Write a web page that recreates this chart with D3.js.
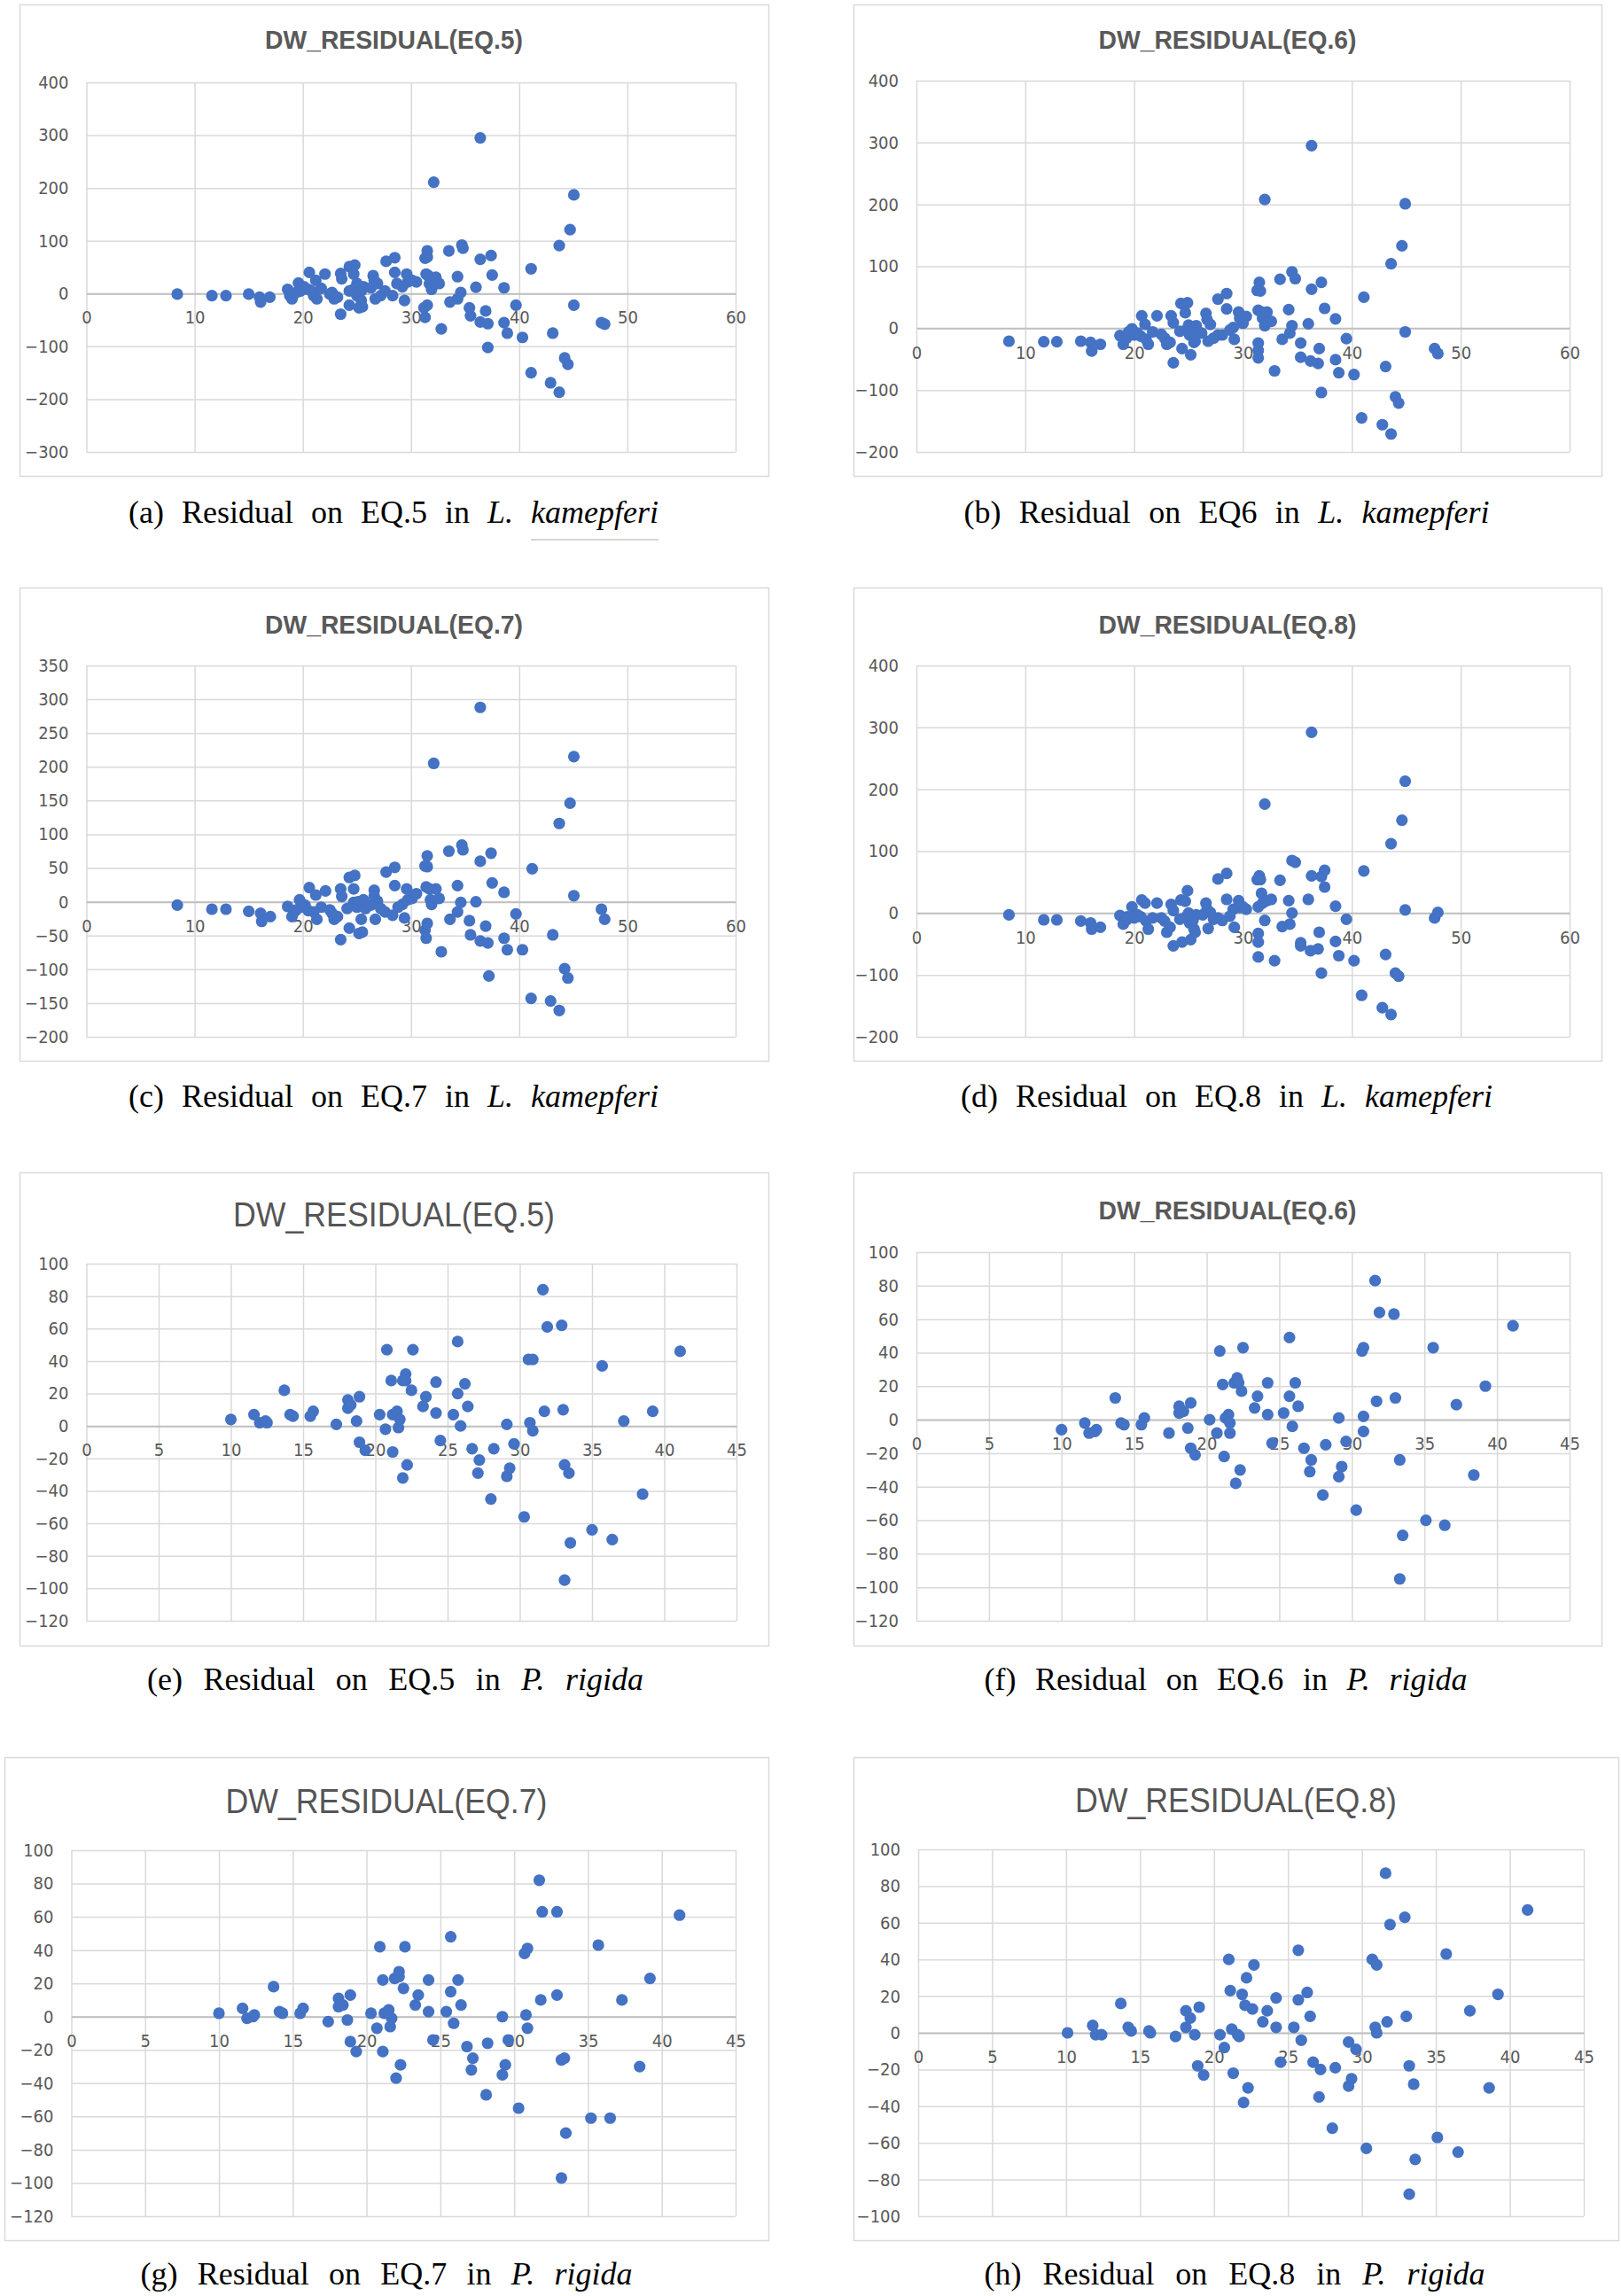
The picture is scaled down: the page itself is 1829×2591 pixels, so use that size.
<!DOCTYPE html>
<html><head><meta charset="utf-8">
<script src="https://cdn.jsdelivr.net/npm/d3@7"></script>
<style>body{margin:0;background:#fff}svg{display:block}</style>
</head><body>
<svg id="c" width="1829" height="2591"></svg>
<script>
// ---------------- DATA ----------------
const xTicksL = [0,10,20,30,40,50,60];
const xTicksP = [0,5,10,15,20,25,30,35,40,45];
const yTicksA = [-300,-200,-100,0,100,200,300,400];
const yTicksB = [-200,-100,0,100,200,300,400];
const yTicksC = [-200,-150,-100,-50,0,50,100,150,200,250,300,350];
const yTicksD = [-200,-100,0,100,200,300,400];
const yTicksE = [-120,-100,-80,-60,-40,-20,0,20,40,60,80,100];
const yTicksF = [-120,-100,-80,-60,-40,-20,0,20,40,60,80,100];
const yTicksG = [-120,-100,-80,-60,-40,-20,0,20,40,60,80,100];
const yTicksH = [-100,-80,-60,-40,-20,0,20,40,60,80,100];

// [DBH, residual] for L. kaempferi
const kaeEq5 = [[8.4,-1],[11.6,-4],[12.9,-4],[15.0,-1],[16.0,-7],[16.1,-16],[16.95,-7],
[18.6,8],[18.8,-4],[19.0,-10],[19.6,20],[19.8,5],[19.4,2],
[20.6,40],[20.5,8],[21.0,-4],[21.2,25],[21.3,-10],[21.7,10],[22.05,37],
[22.7,2],[22.9,-10],[23.2,-7],[23.5,38],[23.6,28],[23.5,-39],
[24.3,51],[24.8,54],[24.7,37],[24.3,-22],[24.7,8],[25.0,-4],[25.2,-27],[25.4,-13],[25.5,-25],[25.6,13],
[26.5,34],[26.7,-10],[26.9,19],[26.6,25],[27.6,5],[27.7,61],[28.5,68],[28.5,40],[28.3,-4],
[29.2,13],[29.4,-13],[29.6,37],[29.7,22],[30.5,22],
[31.2,-27],[31.3,-45],[31.5,-22],[31.3,67],[31.5,81],[31.5,69],[31.4,37],[31.6,34],[31.7,19],[31.9,8],
[32.1,211],[32.3,31],[32.6,19],[32.8,-67],[33.5,81],[33.6,-16],
[34.3,32],[34.3,-10],[34.6,2],[34.7,92],[34.8,86],[35.4,-27],[35.5,-42],[36.0,12],
[36.4,295],[36.4,65],[36.4,-54],[36.9,-33],[37.1,-57],[37.1,-102],[37.4,72],[37.5,35],
[38.6,11],[38.6,-55],[38.9,-75],[39.7,-22],[40.3,-83],[41.1,47],[41.1,-150],
[42.9,-169],[43.1,-75],[43.7,91],[43.7,-187],[44.2,-122],[44.5,-134],[44.7,121],[45.05,187],[45.05,-22],
[47.6,-55],[47.9,-58],
[20.1,13],[20.8,5],[22.5,-1],[24.3,5],[25.0,19],[25.4,5],[26.3,11],[27.2,-4],[28.7,19],[30.1,25]];

const kaeEq6 = [[8.5,-21],[11.7,-22],[12.9,-22],[15.1,-21],[16.0,-23],[16.1,-37],[16.9,-26],
[18.7,-12],[19.0,-26],[19.3,-16],[19.8,-1],[20.0,-11],
[20.7,20],[20.6,-13],[21.1,-18],[21.0,6],[21.3,-26],[21.7,-6],[22.1,20],
[22.8,-16],[23.0,-26],[23.3,-23],[23.4,20],[23.6,9],[23.6,-56],
[24.3,40],[24.9,41],[24.7,25],[24.4,-33],[24.8,-3],[25.1,-11],[25.2,-43],[25.5,-23],[25.6,-21],[25.7,4],
[26.6,24],[26.8,-21],[27.0,6],[26.7,14],[27.7,-11],[27.7,47],[28.5,56],[28.5,31],[28.1,-11],
[29.1,1],[29.2,-18],[29.6,26],[29.7,16],[30.3,19],
[31.4,-24],[31.4,-48],[31.4,-36],[31.3,61],[31.5,74],[31.6,60],[31.4,29],[31.7,26],[31.8,16],[32.0,4],
[32.0,208],[32.2,26],[32.6,11],[32.9,-69],[33.4,79],[33.6,-18],
[34.2,30],[34.3,-8],[34.5,4],[34.5,91],[34.8,80],[35.3,-24],[35.3,-47],[36.0,7],
[36.3,295],[36.3,63],[36.2,-53],[37.0,-33],[36.9,-57],[37.2,-104],[37.2,74],[37.5,32],
[38.5,15],[38.5,-51],[38.8,-72],[39.5,-17],[40.2,-75],[41.1,50],[40.9,-145],
[42.8,-156],[43.1,-62],[43.6,104],[43.6,-171],[44.0,-111],[44.3,-121],[44.6,133],[44.9,201],[44.9,-6],
[47.6,-33],[47.9,-41],
[19.5,-6],[20.3,-8],[22.5,-10],[24.2,-5],[25.0,5],[25.4,-5],[26.2,-8],[27.3,-16],[28.8,-3],[30.0,8]];

const kaeEq7 = [[8.4,-5],[11.6,-11],[12.9,-11],[15.0,-14],[16.1,-17],[16.2,-29],[17.0,-22],
[18.6,-7],[19.0,-22],[19.2,-15],[19.7,3],[19.8,-8],
[20.6,21],[20.5,-13],[21.0,-15],[21.2,10],[21.3,-26],[21.7,-8],[22.1,16],
[22.7,-17],[22.9,-26],[23.2,-22],[23.5,19],[23.6,8],[23.5,-56],
[24.3,36],[24.8,39],[24.7,19],[24.3,-39],[24.7,-1],[25.0,-8],[25.2,-47],[25.4,-26],[25.5,-45],[25.6,3],
[26.6,17],[26.7,-26],[26.9,1],[26.6,8],[27.6,-15],[27.7,44],[28.5,51],[28.5,24],[28.3,-20],
[29.2,-4],[29.4,-24],[29.6,19],[29.7,3],[30.5,12],
[31.3,-42],[31.4,-54],[31.5,-32],[31.3,53],[31.5,68],[31.5,52],[31.4,22],[31.7,19],[31.8,3],[31.9,-4],
[32.1,205],[32.3,19],[32.6,5],[32.8,-74],[33.5,75],[33.6,-26],
[34.3,24],[34.3,-15],[34.6,-1],[34.7,84],[34.8,77],[35.4,-28],[35.5,-49],[36.0,0],
[36.4,288],[36.4,60],[36.4,-58],[36.9,-36],[37.1,-61],[37.2,-110],[37.4,72],[37.5,28],
[38.6,14],[38.6,-54],[38.9,-71],[39.7,-18],[40.3,-71],[41.2,49],[41.1,-143],
[42.9,-147],[43.1,-49],[43.7,116],[43.7,-161],[44.2,-99],[44.5,-113],[44.7,146],[45.05,215],[45.05,9],
[47.6,-11],[47.9,-26],
[19.4,-12],[20.2,-5],[22.5,-12],[24.1,-10],[25.1,0],[25.8,-10],[26.3,-5],[27.2,-10],[28.8,-8],[30.1,5]];

const kaeEq8 = [[8.5,-3],[11.7,-11],[12.9,-11],[15.1,-13],[16.0,-16],[16.1,-26],[16.9,-23],
[18.7,-4],[19.0,-18],[19.3,-11],[19.8,10],[20.0,-8],
[20.7,21],[20.6,-6],[21.1,-13],[21.0,16],[21.3,-26],[21.7,-8],[22.1,16],
[22.8,-13],[23.0,-31],[23.3,-23],[23.4,14],[23.6,4],[23.6,-53],
[24.3,21],[24.9,36],[24.7,19],[24.4,-47],[24.8,-6],[25.1,-16],[25.2,-43],[25.5,-26],[25.6,-31],[25.7,-3],
[26.6,16],[26.8,-25],[27.0,1],[26.7,6],[27.7,-8],[27.7,55],[28.5,64],[28.5,22],[28.1,-12],
[29.1,6],[29.2,-23],[29.6,20],[29.7,9],[30.3,6],
[31.4,-33],[31.4,-47],[31.4,-71],[31.3,54],[31.5,60],[31.6,54],[31.4,10],[31.7,32],[31.8,16],[32.0,-12],
[32.0,176],[32.2,20],[32.6,22],[32.9,-77],[33.4,53],[33.6,-22],
[34.2,20],[34.3,-18],[34.5,0],[34.5,85],[34.8,82],[35.3,-48],[35.3,-53],[36.0,22],
[36.3,292],[36.3,60],[36.2,-61],[37.0,-31],[36.9,-58],[37.2,-97],[37.2,59],[37.5,69],[37.5,42],
[38.5,11],[38.5,-46],[38.8,-69],[39.5,-10],[40.2,-77],[41.1,68],[40.9,-133],
[42.8,-153],[43.1,-67],[43.6,112],[43.6,-164],[44.0,-97],[44.3,-102],[44.6,150],[44.9,213],[44.9,5],
[47.6,-8],[47.9,1],
[19.4,-6],[20.3,-3],[22.5,-8],[24.2,-10],[25.0,0],[25.4,-12],[26.3,-3],[27.3,-10],[28.8,-5],[30.0,10]];

// [DBH, residual] for P. rigida
const rigEq5 = [[10.0,4],[11.6,7],[12.0,2],[12.4,3],[12.5,2],[13.7,22],[14.1,7],[14.3,6],[15.5,6],[15.7,9],
[17.3,1],[18.1,16],[18.1,11],[18.3,13],[18.7,3],[18.9,18],[18.9,-10],[19.3,-15],
[20.3,7],[20.7,-2],[20.8,47],[21.1,28],[21.2,7],[21.2,-16],[21.5,9],[21.7,4],[21.6,-1],
[21.9,28],[22.1,32],[22.1,28],[21.9,-32],[22.2,-24],[22.5,22],[22.6,47],
[23.3,12],[23.5,18],[24.2,27],[24.2,8],[24.5,-9],
[25.4,7],[25.7,52],[25.7,20],[25.9,0],[26.2,26],[26.4,12],
[26.7,-14],[27.1,-29],[27.2,-21],[28.0,-45],[28.2,-14],
[29.1,1],[29.1,-31],[29.3,-26],[29.6,-11],[30.3,-56],
[30.6,41],[30.9,41],[30.7,2],[30.9,-3],[31.6,84],[31.7,9],[31.9,61],
[32.9,62],[33.0,10],[33.1,-24],[33.4,-29],[33.5,-72],[33.1,-95],
[35.0,-64],[35.7,37],[36.4,-70],[37.2,3],[38.5,-42],[39.2,9],[41.1,46]];

const rigEq6 = [[10.0,-6],[11.6,-2],[11.9,-8],[12.3,-7],[12.4,-6],[13.7,13],[14.1,-2],[14.3,-3],[15.5,-3],[15.7,1],
[17.4,-8],[18.1,8],[18.1,4],[18.4,5],[18.7,-5],[18.9,10],[18.9,-17],[19.2,-21],
[20.2,0],[20.7,-8],[20.9,41],[21.1,21],[21.3,1],[21.5,3],[21.6,-2],[21.6,-8],[21.2,-22],
[21.9,22],[22.1,25],[22.2,22],[22.0,-38],[22.3,-30],[22.4,17],[22.5,43],
[23.3,7],[23.5,14],[24.2,22],[24.2,3],[24.5,-14],
[25.3,4],[25.7,49],[25.7,14],[25.9,-4],[26.1,22],[26.3,8],
[26.7,-17],[27.1,-31],[27.2,-24],[28.0,-45],[28.2,-15],
[29.1,1],[29.1,-34],[29.3,-28],[29.6,-13],[30.3,-54],
[30.7,41],[30.8,43],[30.8,2],[30.8,-7],[31.6,83],[31.7,11],[31.9,64],
[32.9,63],[33.0,13],[33.3,-24],[33.5,-69],[33.3,-95],
[35.1,-60],[35.6,43],[36.4,-63],[37.2,9],[38.4,-33],[39.2,20],[41.1,56]];

const rigEq7 = [[10.0,2],[11.6,5],[11.9,-1],[12.3,0],[12.4,1],[13.7,18],[14.1,3],[14.3,2],[15.5,2],[15.7,5],
[17.4,-3],[18.1,11],[18.1,6],[18.4,7],[18.7,-2],[18.9,13],[18.9,-15],[19.3,-21],
[20.3,2],[20.7,-7],[20.9,42],[21.1,22],[21.2,2],[21.5,4],[21.7,-1],[21.6,-6],[21.1,-21],
[21.9,23],[22.2,27],[22.2,24],[22.0,-37],[22.3,-29],[22.5,17],[22.6,42],
[23.3,7],[23.5,13],[24.2,22],[24.2,3],[24.5,-14],
[25.4,3],[25.7,48],[25.7,15],[25.9,-4],[26.2,22],[26.4,7],
[26.8,-18],[27.1,-32],[27.2,-25],[28.1,-47],[28.2,-16],
[29.2,0],[29.2,-35],[29.4,-29],[29.6,-14],[30.3,-55],
[30.7,38],[30.9,41],[30.8,1],[30.9,-7],[31.7,82],[31.8,10],[31.9,63],
[32.9,63],[32.9,13],[33.2,-26],[33.4,-25],[33.5,-70],[33.2,-97],
[35.2,-61],[35.7,43],[36.5,-61],[37.3,10],[38.5,-30],[39.2,23],[41.2,61]];

const rigEq8 = [[10.1,0],[11.8,4],[12.0,-1],[12.4,-1],[13.7,16],[14.2,3],[14.4,1],[15.6,1],[15.7,0],
[17.4,-2],[18.1,12],[18.1,3],[18.4,8],[18.7,-1],[19.0,14],[18.9,-18],[19.3,-23],
[20.4,-1],[20.7,-8],[21.0,40],[21.1,23],[21.2,2],[21.6,-1],[21.7,-2],[21.3,-22],
[21.9,21],[22.2,30],[22.1,15],[22.0,-38],[22.3,-30],[22.6,13],[22.7,37],
[23.3,6],[23.6,12],[24.2,19],[24.2,3],[24.5,-16],
[25.4,3],[25.7,45],[25.7,18],[25.9,-4],[26.3,22],[26.5,9],
[26.7,-16],[27.2,-20],[27.1,-35],[28.0,-52],[28.2,-19],
[29.1,-5],[29.1,-29],[29.3,-25],[29.6,-9],[30.3,-63],
[30.7,40],[31.0,37],[30.9,3],[31.0,0],[31.6,87],[31.7,6],[31.9,59],
[32.9,63],[33.0,9],[33.2,-18],[33.5,-28],[33.6,-69],[33.2,-88],
[35.1,-57],[35.7,43],[36.5,-65],[37.3,12],[38.6,-30],[39.2,21],[41.2,67]];

const titles = ['DW_RESIDUAL(EQ.5)','DW_RESIDUAL(EQ.6)','DW_RESIDUAL(EQ.7)','DW_RESIDUAL(EQ.8)',
                'DW_RESIDUAL(EQ.5)','DW_RESIDUAL(EQ.6)','DW_RESIDUAL(EQ.7)','DW_RESIDUAL(EQ.8)'];
const captionLeads = ['(a) Residual on EQ.5 in ','(b) Residual on EQ6 in ','(c) Residual on EQ.7 in ','(d) Residual on EQ.8 in ',
                      '(e) Residual on EQ.5 in ','(f) Residual on EQ.6 in ','(g) Residual on EQ.7 in ','(h) Residual on EQ.8 in '];
const genusL = 'L.', speciesL = 'kamepferi';
const genusP = 'P.', speciesP = 'rigida';

// ---------------- LAYOUT ----------------
const layout = [
 {data:kaeEq5, xT:xTicksL, yT:yTicksA, box:[22,5,867,537],     plot:[97.5,93,830,510],    tStyle:'b', tY:44.5, cap:[444,598,590], g:genusL, s:speciesL, ul:true},
 {data:kaeEq6, xT:xTicksL, yT:yTicksB, box:[963,5,1807,537],   plot:[1034,91,1771,510],   tStyle:'b', tY:44.5, cap:[1384,593,590], g:genusL, s:speciesL},
 {data:kaeEq7, xT:xTicksL, yT:yTicksC, box:[22,663,867,1197],  plot:[97.5,751,830,1170],  tStyle:'b', tY:704, cap:[444,598,1249], g:genusL, s:speciesL},
 {data:kaeEq8, xT:xTicksL, yT:yTicksD, box:[963,663,1807,1197],plot:[1034,751,1771,1170], tStyle:'b', tY:704, cap:[1384,600,1249], g:genusL, s:speciesL},
 {data:rigEq5, xT:xTicksP, yT:yTicksE, box:[22,1323,867,1857], plot:[97.5,1426,831,1829], tStyle:'l', tY:1371, cap:[446,560,1907], g:genusP, s:speciesP},
 {data:rigEq6, xT:xTicksP, yT:yTicksF, box:[963,1323,1807,1857],plot:[1034,1413,1771,1829],tStyle:'b', tY:1365, cap:[1383,545,1907], g:genusP, s:speciesP},
 {data:rigEq7, xT:xTicksP, yT:yTicksG, box:[5,1983,867,2528],  plot:[80.5,2088,830,2501], tStyle:'l', tY:2033, cap:[436,555,2578], g:genusP, s:speciesP},
 {data:rigEq8, xT:xTicksP, yT:yTicksH, box:[963,1983,1826,2528],plot:[1036,2087,1787,2501],tStyle:'l', tY:2032, cap:[1393,565,2578], g:genusP, s:speciesP}
];

const svg = d3.select('#c');
const tickFont = '"Liberation Sans Narrow","DejaVu Sans Condensed","Liberation Sans",sans-serif';
const gray = '#595959';

layout.forEach((p, i) => {
  const [bx0,by0,bx1,by1] = p.box;
  const [px0,py0,px1,py1] = p.plot;
  const g = svg.append('g');
  g.append('rect').attr('x',bx0+0.5).attr('y',by0+0.5).attr('width',bx1-bx0).attr('height',by1-by0)
    .attr('fill','#fff').attr('stroke','#d9d9d9').attr('stroke-width',1.5);

  const xs = d3.scaleLinear().domain([p.xT[0], p.xT[p.xT.length-1]]).range([px0,px1]);
  const ys = d3.scaleLinear().domain([p.yT[0], p.yT[p.yT.length-1]]).range([py1,py0]);

  const gx = g.append('g').attr('transform',`translate(0,${py1})`)
    .call(d3.axisBottom(xs).tickValues(p.xT).tickSize(-(py1-py0)).tickFormat(''));
  gx.select('.domain').remove();
  gx.selectAll('line').attr('stroke','#d9d9d9').attr('stroke-width',1.5);

  const gy = g.append('g').attr('transform',`translate(${px0},0)`)
    .call(d3.axisLeft(ys).tickValues(p.yT).tickSize(-(px1-px0)).tickPadding(20).tickFormat(d3.format('d')));
  gy.select('.domain').remove();
  gy.selectAll('line').attr('stroke','#d9d9d9').attr('stroke-width',1.5);
  gy.selectAll('text').attr('font-family',tickFont).attr('font-size',20).attr('fill',gray);

  const gz = g.append('g').attr('transform',`translate(0,${ys(0)})`)
    .call(d3.axisBottom(xs).tickValues(p.xT).tickSize(0).tickPadding(20).tickFormat(d3.format('d')));
  gz.select('.domain').attr('stroke','#bfbfbf').attr('stroke-width',2);
  gz.selectAll('text').attr('font-family',tickFont).attr('font-size',20).attr('fill',gray);

  const bold = p.tStyle === 'b';
  g.append('text').text(titles[i])
    .attr('x',(bx0+bx1)/2).attr('y',p.tY)
    .attr('text-anchor','middle').attr('dominant-baseline','central')
    .attr('font-family','"Liberation Sans","Open Sans",sans-serif')
    .attr('font-size', bold ? 30 : 38)
    .attr('font-weight', bold ? 'bold' : 'normal')
    .attr('textLength', bold ? 291 : 363).attr('lengthAdjust','spacingAndGlyphs')
    .attr('fill', bold ? '#595959' : '#555');

  g.append('g').selectAll('circle').data(p.data).join('circle')
    .attr('cx', d => xs(d[0])).attr('cy', d => ys(d[1])).attr('r',6.6)
    .attr('fill','#4472C4');

  const [cx, cw, cy] = p.cap;
  const t = svg.append('text').attr('x',cx).attr('y',cy).attr('text-anchor','middle')
    .attr('font-family','"Liberation Serif","Times New Roman",serif').attr('font-size',36).attr('fill','#000');
  t.append('tspan').text(captionLeads[i]);
  t.append('tspan').attr('font-style','italic').text(p.g);
  t.append('tspan').text(' ');
  const sp = t.append('tspan').attr('font-style','italic').text(p.s);
  const len = t.node().getComputedTextLength();
  const spaces = (captionLeads[i] + p.g + ' ' + p.s).split(' ').length - 1;
  t.attr('word-spacing', Math.max(0, (cw - len) / spaces));
  if (p.ul) {
    const bb = sp.node().getBBox();
    svg.append('line').attr('x1',bb.x).attr('x2',bb.x+bb.width).attr('y1',cy+19).attr('y2',cy+19)
      .attr('stroke','#c8c8c8').attr('stroke-width',1.5);
  }
});
</script>
</body></html>
